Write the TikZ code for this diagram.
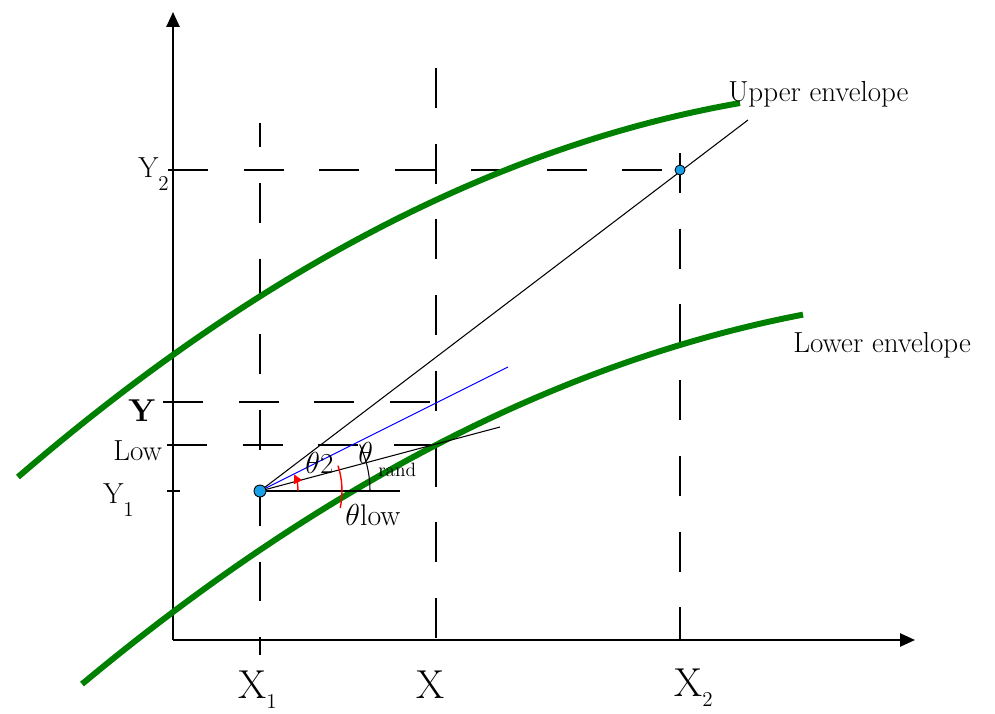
\documentclass[tikz,border=0pt]{standalone}
\usetikzlibrary{arrows.meta,calc}
\definecolor{env}{RGB}{0,128,0}
\definecolor{dotc}{RGB}{25,160,230}
\newcommand\lsub[2]{\raisebox{-#2}{\fontsize{12}{12}\selectfont #1}}
\begin{document}
\begin{tikzpicture}[x=0.02cm,y=-0.02cm,
  axis/.style={line width=1.1pt,-{Triangle[length=8.5pt,width=7.5pt]}},
  guide/.style={line width=0.9pt,dash pattern=on 22.7pt off 20.4pt},
  tick/.style={line width=0.9pt},
  envelope/.style={env,line width=3.4pt},
  ray/.style={line width=0.6pt},
  lbl/.style={font=\fontsize{16.5}{18}\selectfont,inner sep=0pt},
  big/.style={font=\fontsize{23}{25}\selectfont,inner sep=0pt},
  dotstyle/.style={draw=black,line width=0.5pt,fill=dotc}
]
\useasboundingbox (0,0) rectangle (995,714);

% key points
\coordinate (O) at (173,640);
\coordinate (Ytop) at (173,12);
\coordinate (Xend) at (915,640);
\coordinate (P1) at (260,491);
\coordinate (P2) at (680,170);
\coordinate (Uend) at (748,120);
\coordinate (Bend) at (508,367);
\coordinate (Tend) at (500,427);
\coordinate (Hend) at (400,491);

% axes
\draw[axis] (O) -- (Ytop);
\draw[axis] (O) -- (Xend);

% dashed guides
\coordinate (x1a) at (260,123); \coordinate (x1b) at (260,655);
\coordinate (xa) at (436,68);   \coordinate (xb) at (436,648);
\coordinate (x2a) at (680,153); \coordinate (x2b) at (680,640);
\coordinate (y2a) at (168,170);
\coordinate (ya) at (163,402);  \coordinate (yb) at (436,402);
\coordinate (la) at (167,445);  \coordinate (lb) at (457,445);
\draw[guide,dash phase=9pt] (x1a) -- (x1b);
\draw[guide] (xa) -- (xb);
\draw[guide] (x2a) -- (x2b);
\draw[guide] (y2a) -- (P2);
\draw[guide] (ya) -- (yb);
\draw[guide] (la) -- (lb);
\coordinate (t1a) at (167,491); \coordinate (t1b) at (180,491);
\draw[tick] (t1a) -- (t1b);

% envelopes (v = (x-436)/100)
\draw[envelope] plot[domain=18:740,samples=80,variable=\x]
  (\x,{200-46.37*((\x-436)/100)+4.76*((\x-436)/100)^2});
\draw[envelope] plot[domain=82:803,samples=80,variable=\x]
  (\x,{445-51.82*((\x-436)/100)+4.44*((\x-436)/100)^2});

% rays from P1
\draw[ray] (P1) -- (Uend);
\draw[ray,blue] (P1) -- (Bend);
\draw[ray] (P1) -- (Tend);
\draw[ray] (P1) -- (Hend);

% angle arcs
\draw[red,line width=0.8pt,-{Triangle[length=5pt,width=5pt]}] ($(P1)+(38,0)$) arc[start angle=0,end angle=-26,radius=38];
\draw[red,line width=0.8pt] ($(P1)+(12:82)$) arc[start angle=12,end angle=-18,radius=82];
\draw[ray] ($(P1)+(110,0)$) arc[start angle=0,end angle=-25,radius=110];

% points
\draw[dotstyle] (P1) circle[radius=6];
\draw[dotstyle] (P2) circle[radius=5];

% labels
\node[lbl,anchor=base west] (ul) at (728,101) {Upper envelope};
\node[lbl,anchor=base west] (ll) at (793,352) {Lower envelope};
\node[lbl,anchor=base west] (ly2) at (138,177) {Y\lsub{2}{7.5pt}};
\node[lbl,anchor=base west] (ly1) at (103,503) {Y\lsub{1}{7.5pt}};
\node[lbl,anchor=base west,font=\fontsize{18}{20}\selectfont\bfseries] (ly) at (128,421) {Y};
\node[lbl,anchor=base west] (llow) at (113,460) {Low};
\node[big,anchor=base west] (lx1) at (238,698) {X\lsub{1}{6pt}};
\node[big,anchor=base west] (lx) at (416,698) {X};
\node[big,anchor=base west] (lx2) at (674,696) {X\lsub{2}{6pt}};
\node[lbl,anchor=base west] (lt2) at (305,473) {$\theta$2};
\node[lbl,anchor=base west] (ltr) at (358,463) {$\theta$};
\node[anchor=base west,inner sep=0pt,font=\fontsize{11}{12}\selectfont] (ltrs) at (378,476) {rand};
\node[lbl,anchor=base west,font=\fontsize{17}{19}\selectfont] (ltl) at (345,525) {$\theta$low};
\end{tikzpicture}
\end{document}
